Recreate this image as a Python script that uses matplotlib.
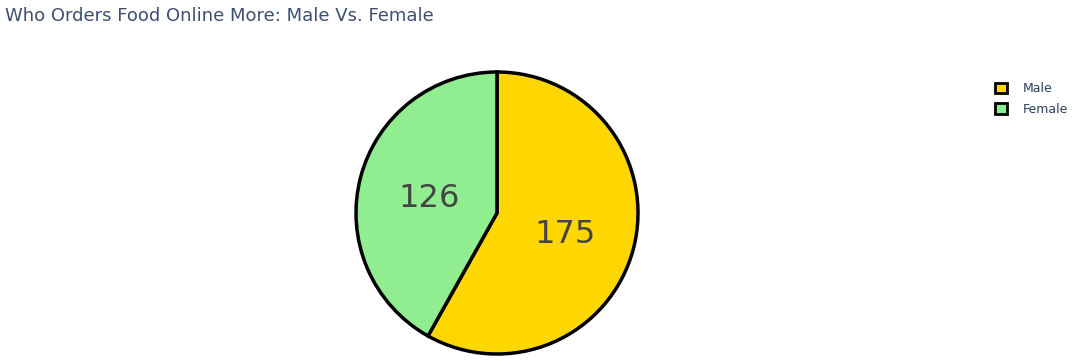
import matplotlib
matplotlib.use("Agg")
import matplotlib.pyplot as plt
from matplotlib.patches import Patch

labels = ["Male", "Female"]
values = [175, 126]
colors = ["#FFD700", "#90EE90"]

W, H = 1080, 364
fig = plt.figure(figsize=(W/100, H/100), dpi=100)
plt.rcParams['font.family'] = ['DejaVu Sans']

cx, cy, r = 497, 213, 141
ax = fig.add_axes([(cx - r)/W, (H - cy - r)/H, 2*r/W, 2*r/H])
wedges, texts = ax.pie(values, colors=colors, startangle=90, counterclock=False,
                       labels=[str(v) for v in values], labeldistance=0.5,
                       wedgeprops=dict(edgecolor="black", linewidth=2.5),
                       textprops=dict(fontsize=23, color="#444444"))
for t in texts:
    t.set_ha("center"); t.set_va("center")
    x, y = t.get_position()
    t.set_position((x, y - 0.025))
ax.set_xlim(-1.0, 1.0)
ax.set_ylim(-1.0, 1.0)
ax.set_aspect("auto")
ax.axis("off")

fig.text(5/W, 1 - 16/H, "Who Orders Food Online More: Male Vs. Female",
         fontsize=13, color="#3d4f70", ha="left", va="center")

handles = [Patch(facecolor=c, edgecolor="black", linewidth=2) for c in colors]
fig.legend(handles, labels, loc="upper left", bbox_to_anchor=(984/W, 1 - 71/H),
           frameon=False, fontsize=9, labelcolor="#2a3f5f",
           handlelength=0.9, handleheight=0.9, handletextpad=1.3, labelspacing=0.6)

fig.savefig("out.png", dpi=100)
